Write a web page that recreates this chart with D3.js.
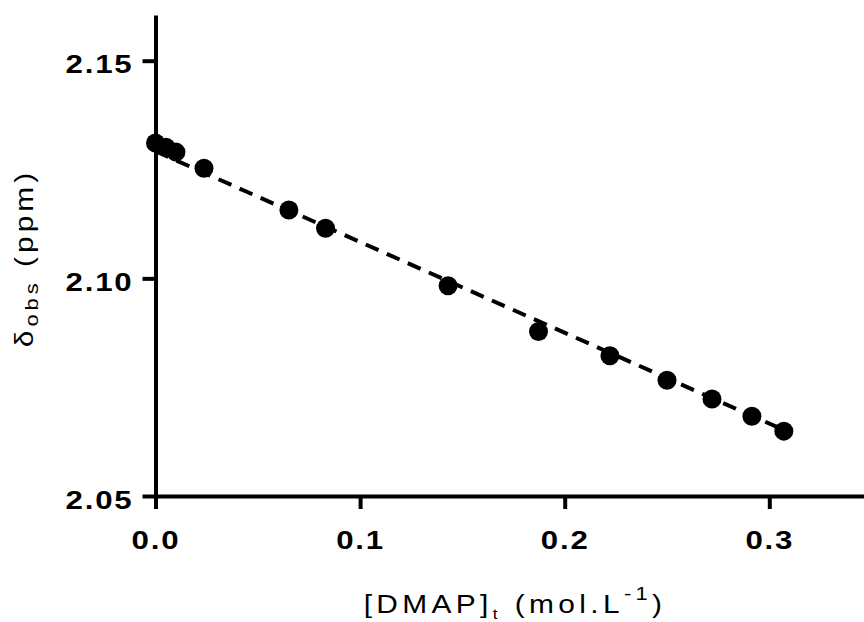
<!DOCTYPE html>
<html>
<head>
<meta charset="utf-8">
<script src="https://cdn.jsdelivr.net/npm/d3@7"></script>
<style>
  html, body { margin: 0; padding: 0; background: #fff; }
  svg text { font-family: "Liberation Sans", Arial, sans-serif; fill: #000; }
</style>
</head>
<body>
<div id="vis"></div>
<script>
// DMAP concentration (mol/L) and observed shift (ppm)
const dmap = [0.0, 0.0051, 0.0100, 0.0237, 0.0652, 0.0831, 0.1430, 0.1872, 0.2221, 0.2500, 0.2720, 0.2915, 0.3071];
const deltaObs = [2.1311, 2.1301, 2.1290, 2.1253, 2.1157, 2.1115, 2.0983, 2.0878, 2.0822, 2.0766, 2.0723, 2.0683, 2.0649];

// linear fit (dashed)
const fitIntercept = 2.1292;
const fitSlope = -0.2085;
const fitRange = [0, 0.3071];

const xTicks = [0.0, 0.1, 0.2, 0.3];
const yTicks = [2.05, 2.10, 2.15];
const xDomain = [0, 0.35];
const yDomain = [2.05, 2.1605];

const width = 864, height = 622;
const svg = d3.select("#vis").append("svg")
  .attr("width", width)
  .attr("height", height);

const x = d3.scaleLinear().domain(xDomain).range([155.5, 155.5 + 0.35 * 2046]);
const y = d3.scaleLinear().domain(yDomain).range([496, 15]);

// glyphs in the original are a bit wider than Liberation Sans
const tickStretch = 1.2, titleStretch = 1.15;

// axes
const xAxis = d3.axisBottom(x).tickValues(xTicks).tickSize(13).tickSizeOuter(0)
  .tickFormat(d3.format(".1f"));
const yAxis = d3.axisLeft(y).tickValues(yTicks).tickSize(13).tickSizeOuter(0)
  .tickFormat(d3.format(".2f"));

const gx = svg.append("g").attr("transform", `translate(0, ${y(yDomain[0])})`).call(xAxis);
const gy = svg.append("g").attr("transform", `translate(${x(0)}, 0)`).call(yAxis);

[gx, gy].forEach(g => {
  g.select(".domain").attr("stroke", "#000").attr("stroke-width", 4);
  g.selectAll(".tick line").attr("stroke", "#000").attr("stroke-width", 4);
  g.selectAll(".tick text")
    .attr("fill", "#000")
    .attr("transform", `scale(${tickStretch},1)`)
    .style("font-size", "26px")
    .style("font-weight", "bold")
    .style("letter-spacing", "1.5px");
});

gx.selectAll(".tick text")
  .attr("x", 0)
  .attr("y", 53)
  .attr("dy", null)
  .attr("text-anchor", "middle");

gy.selectAll(".tick text")
  .attr("x", -22 / tickStretch)
  .attr("dy", null)
  .attr("y", 12)
  .attr("text-anchor", "end");

// axis titles
const xt = svg.append("text")
  .attr("transform", `translate(515, 613) scale(${titleStretch},1)`)
  .attr("text-anchor", "middle")
  .style("font-size", "26px")
  .style("letter-spacing", "3.8px");
xt.append("tspan").text("[DMAP]");
xt.append("tspan").attr("dy", 6).style("font-size", "15px").text("t");
xt.append("tspan").attr("dy", -6).text(" (mol.L");
xt.append("tspan").attr("dy", -13).style("font-size", "19px").text("-1");
xt.append("tspan").attr("dy", 13).text(")");

const yt = svg.append("text")
  .attr("transform", `translate(33, 258) rotate(-90) scale(${titleStretch},1)`)
  .attr("text-anchor", "middle")
  .style("font-size", "26px")
  .style("letter-spacing", "3.5px");
yt.append("tspan").text("δ");
yt.append("tspan").attr("dy", 5).style("font-size", "19px").text("obs");
yt.append("tspan").attr("dy", -5).text(" (ppm)");

// fit line
const line = d3.line()
  .x(d => x(d))
  .y(d => y(fitIntercept + fitSlope * d));

svg.append("path")
  .datum(fitRange)
  .attr("d", line)
  .attr("fill", "none")
  .attr("stroke", "#000")
  .attr("stroke-width", 4)
  .attr("stroke-dasharray", "14,9");

// data points
svg.selectAll(".point")
  .data(dmap.map((d, i) => ({ c: d, v: deltaObs[i] })))
  .join("circle")
  .attr("class", "point")
  .attr("cx", d => x(d.c))
  .attr("cy", d => y(d.v))
  .attr("r", 9.5)
  .attr("fill", "#000");
</script>
</body>
</html>
